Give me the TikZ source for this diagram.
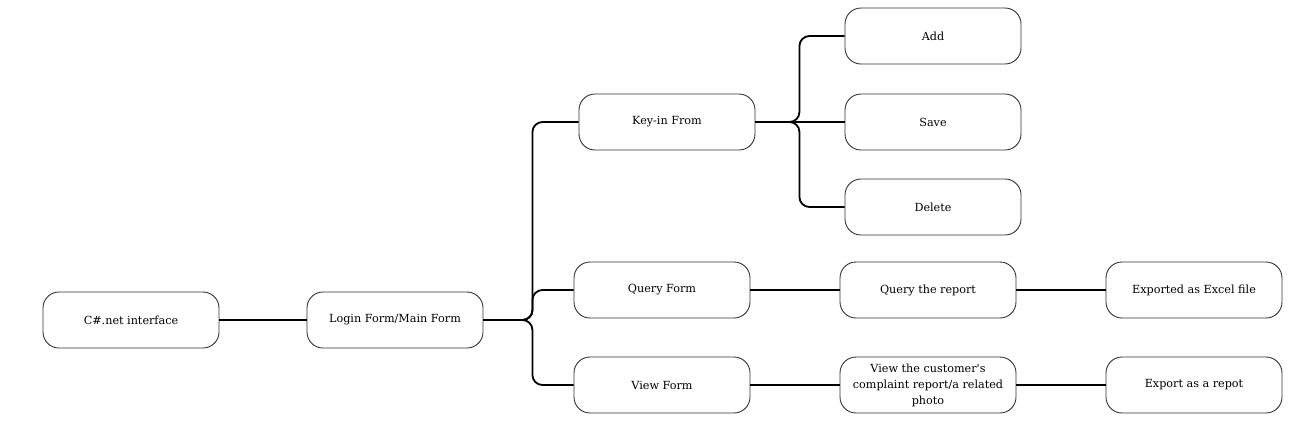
\documentclass[tikz,border=0pt]{standalone}
\usepackage{fontspec}
\setmainfont{DejaVu Serif}
\begin{document}
\begin{tikzpicture}[x=1pt,y=-1pt,
  box/.style={draw=black!80, line width=0.9pt, rounded corners=16pt, minimum width=176pt, minimum height=56pt, align=center, font=\fontsize{11.2}{16}\selectfont},
  link/.style={line width=1.8pt, rounded corners=10pt}]
\useasboundingbox (0,0) rectangle (1294,421);
% main line
\node[box](iface) at (131,320){C\#.net interface};
\node[box](login) at (395,320){Login Form/Main Form};
\draw[link] (iface) -- (login);
% forms
\node[box](keyin) at (667,122){Key-in From};
\node[box](query) at (662,290){Query Form};
\node[box](view) at (662,385){View Form};
\draw[link] (login.east) -- ++(49,0) |- (keyin.west);
\draw[link] (login.east) -- ++(49,0) |- (query.west);
\draw[link] (login.east) -- ++(49,0) |- (view.west);
% key-in actions
\node[box](add) at (933,36){Add};
\node[box](save) at (933,122){Save};
\node[box](del) at (933,207){Delete};
\draw[link] (keyin.east) -- ++(44,0) |- (add.west);
\draw[link] (keyin.east) -- (save.west);
\draw[link] (keyin.east) -- ++(44,0) |- (del.west);
% query and view
\node[box](qrep) at (928,290){Query the report};
\node[box](excel) at (1194,290){Exported as Excel file};
\node[box](vrep) at (928,385){View the customer\textquotesingle s\\complaint report/a related\\photo};
\node[box](repot) at (1194,385){Export as a repot};
\draw[link] (query) -- (qrep) -- (excel);
\draw[link] (view) -- (vrep) -- (repot);
\end{tikzpicture}
\end{document}
